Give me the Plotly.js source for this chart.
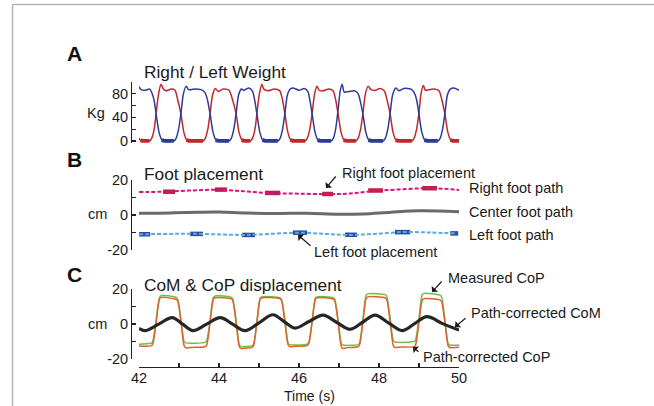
<!DOCTYPE html>
<html>
<head>
<meta charset="utf-8">
<script src="https://cdn.plot.ly/plotly-3.0.1.min.js"></script>
<style>html,body{margin:0;padding:0;background:#fff;}#chart{width:654px;height:406px;}</style>
</head>
<body>
<div id="chart"></div>
<script>
// ---------- DATA ----------
// Panel A: right / left weight (kg) vs time (s)
const rightWeightT = [42.00,42.04,42.10,42.26,42.32,42.38,42.43,42.49,42.55,42.61,42.68,42.80,42.90,42.96,43.05,43.12,43.19,43.25,
  43.60,43.66,43.72,43.78,43.84,43.91,43.98,44.10,44.25,44.33,44.43,44.50,44.57,44.63,
  44.78,44.84,44.90,44.95,45.01,45.07,45.12,45.22,45.38,45.52,45.58,45.65,45.72,45.79,45.85,
  46.15,46.21,46.27,46.33,46.39,46.45,46.50,46.60,46.75,46.85,46.91,46.98,47.05,47.12,47.18,
  47.42,47.48,47.54,47.60,47.66,47.73,47.80,47.92,48.02,48.13,48.20,48.28,48.35,48.42,48.48,
  48.82,48.88,48.94,49.00,49.05,49.11,49.16,49.25,49.38,49.50,49.57,49.65,49.72,49.79,49.85,50.00];
const rightWeightKg = [5,1,0,0,5,20,48,80,96,88,85,88,86,72,45,15,2,0,
  0,5,20,48,78,89,84,88,86,72,45,15,2,0,
  0,5,20,48,80,96,88,85,88,85,72,45,15,2,0,
  0,5,20,48,80,93,86,85,88,85,72,45,15,2,0,
  0,5,20,48,80,93,87,86,89,85,70,45,15,2,0,
  0,5,20,48,80,94,86,87,88,85,70,45,15,2,0,0];
const leftWeightT = [42.00,42.05,42.15,42.27,42.33,42.38,42.43,42.50,42.57,42.63,
  42.87,42.93,42.99,43.05,43.11,43.18,43.24,43.38,43.55,43.65,43.71,43.78,43.85,43.92,43.98,
  44.25,44.31,44.37,44.43,44.49,44.56,44.62,44.75,44.84,44.89,44.95,45.02,45.09,45.15,
  45.47,45.53,45.59,45.65,45.71,45.78,45.85,46.00,46.13,46.22,46.27,46.33,46.40,46.47,46.53,
  46.80,46.86,46.92,46.98,47.03,47.08,47.13,47.25,47.40,47.48,47.53,47.60,47.67,47.74,47.80,
  48.10,48.16,48.22,48.28,48.34,48.42,48.50,48.62,48.80,48.88,48.94,49.00,49.07,49.14,49.20,
  49.47,49.53,49.59,49.65,49.71,49.78,49.87,50.00];
const leftWeightKg = [92,87,86,88,80,68,45,15,2,0,
  0,5,20,48,80,93,87,88,87,82,70,45,15,2,0,
  0,5,20,48,78,88,86,90,84,70,45,15,2,0,
  0,5,20,48,78,88,90,86,89,84,70,45,15,2,0,
  0,5,22,55,85,96,83,84,85,80,68,45,15,2,0,
  0,5,20,48,78,90,85,89,88,82,70,45,15,2,0,
  0,5,20,48,78,88,90,86];

// Panel B: foot paths (cm)
const rightPathT  = [42.0,42.6,43.28,44.0,44.65,45.3,46.0,46.78,47.28,47.85,48.5,49.28,50.0];
const rightPathCm = [13.1,13.3,14.0,14.4,13.5,12.5,12.2,11.9,12.3,13.7,14.6,15.3,14.3];
const leftPathT   = [42.0,42.78,43.35,44.03,44.6,45.28,46.03,46.65,47.2,47.9,48.6,49.28,49.9];
const leftPathCm  = [-11.0,-10.8,-10.7,-11.1,-11.4,-10.8,-10.1,-10.8,-11.4,-10.8,-9.7,-10.0,-10.5];
const centerPathT  = [42.0,42.8,43.5,44.0,44.7,45.5,46.2,47.0,47.6,48.3,49.0,49.5,50.0];
const centerPathCm = [1.0,1.2,1.6,1.7,1.1,0.9,1.0,0.4,0.6,1.6,2.4,2.3,1.9];
// foot placements (start s, end s, lateral position cm)
const rightStepStart = [42.60,43.90,45.15,46.58,47.73,49.08];
const rightStepEnd   = [42.90,44.20,45.53,46.85,48.10,49.45];
const rightStepCm    = [13.3,14.5,12.6,12.0,14.0,15.3];
const leftStepStart  = [41.95,43.28,44.58,45.85,47.15,48.40,49.78];
const leftStepEnd    = [42.28,43.60,44.90,46.20,47.45,48.78,49.98];
const leftStepCm     = [-11.0,-10.8,-11.4,-10.1,-11.3,-9.8,-10.5];

// Panel C: CoM & CoP displacement (cm)
const measuredCopT = [42.00,42.30,42.34,42.43,42.51,42.55,42.90,42.96,43.05,43.13,43.17,
  43.65,43.69,43.78,43.86,43.90,44.30,44.34,44.43,44.51,44.55,
  44.82,44.86,44.95,45.03,45.07,45.52,45.56,45.65,45.73,45.77,
  46.20,46.24,46.33,46.41,46.45,46.85,46.89,46.98,47.06,47.10,
  47.47,47.51,47.60,47.68,47.72,48.15,48.19,48.28,48.36,48.40,
  48.87,48.91,49.00,49.08,49.12,49.52,49.56,49.65,49.73,49.77,50.00];
const measuredCop = [-11.5,-11.0,-10.2,2.5,15.0,16.2,15.4,14.6,2.0,-10.0,-10.8,
  -10.5,-9.8,3.0,15.2,16.0,15.3,14.5,1.5,-12.0,-12.8,
  -12.5,-11.8,2.0,14.8,15.5,15.0,14.2,2.0,-11.0,-11.8,
  -11.5,-10.8,2.0,14.8,15.5,15.0,14.2,2.0,-11.2,-12.0,
  -11.8,-11.0,3.0,16.5,17.2,16.8,16.0,3.0,-9.5,-10.3,
  -10.0,-9.3,3.5,16.8,17.5,16.5,15.8,2.0,-11.2,-12.0,-12.0];
const correctedCopT = [42.00,42.30,42.34,42.43,42.51,42.55,42.90,42.96,43.05,43.13,43.17,43.30,
  43.65,43.69,43.78,43.86,43.90,44.30,44.34,44.43,44.51,44.55,44.65,
  44.82,44.86,44.95,45.03,45.07,45.52,45.56,45.65,45.73,45.77,45.90,
  46.20,46.24,46.33,46.41,46.45,46.85,46.89,46.98,47.06,47.10,47.22,
  47.47,47.51,47.60,47.68,47.72,48.15,48.19,48.28,48.36,48.40,48.55,
  48.87,48.91,49.00,49.08,49.12,49.52,49.56,49.65,49.73,49.77,50.00];
const correctedCop = [-12.6,-12.5,-11.7,1.5,14.0,15.2,14.3,13.5,1.0,-12.5,-13.6,-13.4,
  -13.0,-12.2,1.5,14.2,15.0,14.5,13.7,0.5,-13.0,-14.0,-13.8,
  -13.5,-12.7,1.5,14.2,15.0,14.5,13.7,0.5,-12.0,-12.9,-12.7,
  -12.3,-11.5,1.5,14.2,15.0,14.3,13.5,0.5,-13.0,-14.0,-13.5,
  -13.0,-12.2,1.5,14.7,15.5,15.0,14.2,1.0,-12.5,-13.4,-13.2,
  -13.0,-12.2,1.0,13.7,14.5,13.8,13.0,0.5,-12.5,-13.4,-13.3];
const comT = [42.00,42.15,42.49,42.83,43.09,43.35,43.69,44.03,44.34,44.65,45.00,45.35,45.62,45.90,
  46.25,46.60,46.94,47.28,47.59,47.90,48.24,48.58,48.89,49.20,49.59,50.00];
const correctedCom = [-2.5,-3.8,-0.1,3.6,-0.1,-3.8,-0.1,3.6,-0.1,-3.8,0.7,5.3,1.5,-2.3,
  1.4,5.1,1.0,-3.0,1.0,5.1,0.6,-3.8,0.2,4.2,0.2,-3.5];

// tick labels
const timeTickVals = [42,43,44,45,46,47,48,49,50];
const timeTickText = ['42','','44','','46','','48','','50'];
const kgTickVals = [0,20,40,60,80,100];
const kgTickText = ['0','','40','','80',''];
const cmTickVals = [-20,-10,0,10,20];
const cmTickText = ['-20','','0','','20'];

// ---------- BUILD ----------
const W = 654, H = 406;
const px = v => v / W;
const py = v => 1 - v / H;
const FONT = 'Liberation Sans, Arial, Helvetica, sans-serif';

function segments(starts, ends, vals) {
  const x = [], y = [];
  starts.forEach((s, i) => { x.push(s, ends[i], null); y.push(vals[i], vals[i], null); });
  return {x, y};
}
const groundOnly = arr => arr.map(v => (v <= 2 ? v : null));

const RED = '#c1272d', BLUE = '#2e3a97';
const rs = segments(rightStepStart, rightStepEnd, rightStepCm);
const ls = segments(leftStepStart, leftStepEnd, leftStepCm);

const traces = [
  {x: rightWeightT, y: rightWeightKg, yaxis: 'y', mode: 'lines', line: {color: RED, width: 1.5, shape: 'spline', smoothing: 0.7}},
  {x: leftWeightT, y: leftWeightKg, yaxis: 'y', mode: 'lines', line: {color: BLUE, width: 1.5, shape: 'spline', smoothing: 0.7}},
  {x: rightWeightT, y: groundOnly(rightWeightKg), yaxis: 'y', mode: 'lines', line: {color: RED, width: 4}, connectgaps: false},
  {x: leftWeightT, y: groundOnly(leftWeightKg), yaxis: 'y', mode: 'lines', line: {color: BLUE, width: 4}, connectgaps: false},

  {x: rs.x, y: rs.y, yaxis: 'y2', mode: 'lines', line: {color: '#b8233f', width: 4.5}, connectgaps: false},
  {x: rightPathT, y: rightPathCm, yaxis: 'y2', mode: 'lines', line: {color: '#d9127e', width: 2, dash: '4px,2px', shape: 'spline'}},
  {x: centerPathT, y: centerPathCm, yaxis: 'y2', mode: 'lines', line: {color: '#6b6b6b', width: 3, shape: 'spline'}},
  {x: ls.x, y: ls.y, yaxis: 'y2', mode: 'lines', line: {color: '#2b4aa0', width: 4.5}, connectgaps: false},
  {x: leftPathT, y: leftPathCm, yaxis: 'y2', mode: 'lines', line: {color: '#5aaae2', width: 2, dash: '4px,2px', shape: 'spline'}},

  {x: measuredCopT, y: measuredCop, yaxis: 'y3', mode: 'lines', line: {color: '#6cbf4a', width: 1.5, shape: 'spline', smoothing: 0.8}},
  {x: correctedCopT, y: correctedCop, yaxis: 'y3', mode: 'lines', line: {color: '#e0622a', width: 1.5, shape: 'spline', smoothing: 0.8}},
  {x: comT, y: correctedCom, yaxis: 'y3', mode: 'lines', line: {color: '#262626', width: 3.2, shape: 'spline', smoothing: 1}}
];

const yBase = {
  anchor: 'free', position: px(131), showline: true, linecolor: '#222', linewidth: 1.3,
  ticks: 'inside', ticklen: 4, tickwidth: 1.2, tickcolor: '#222', showgrid: false, zeroline: false,
  tickmode: 'array', tickfont: {family: FONT, size: 14.5, color: '#1a1a1a'}, fixedrange: true
};

const ann = [];
function label(text, x, y, opts) {
  ann.push(Object.assign({text, x: px(x), y: py(y), xref: 'paper', yref: 'paper', showarrow: false,
    xanchor: 'left', yanchor: 'middle', font: {family: FONT, size: 14.5, color: '#1a1a1a'}}, opts || {}));
}
function arrow(tx, ty, hx, hy) {
  ann.push({text: '', x: px(hx), y: py(hy), xref: 'paper', yref: 'paper', ax: px(tx), ay: py(ty),
    axref: 'paper', ayref: 'paper', showarrow: true, arrowhead: 1, arrowsize: 1.2, arrowwidth: 1.2, arrowcolor: '#1a1a1a'});
}
// panel letters and titles
label('<b>A</b>', 74, 53, {xanchor: 'center', font: {family: FONT, size: 21, color: '#111'}});
label('<b>B</b>', 74, 160, {xanchor: 'center', font: {family: FONT, size: 21, color: '#111'}});
label('<b>C</b>', 74, 274, {xanchor: 'center', font: {family: FONT, size: 21, color: '#111'}});
label('Right / Left Weight', 142, 72, {font: {family: FONT, size: 17.3, color: '#1a1a1a'}});
label('Foot placement', 142, 174, {font: {family: FONT, size: 17.3, color: '#1a1a1a'}});
label('CoM &amp; CoP displacement', 142, 285, {font: {family: FONT, size: 17.3, color: '#1a1a1a'}});
// axis unit labels
label('Kg', 96, 113, {xanchor: 'center'});
label('cm', 97, 214, {xanchor: 'center'});
label('cm', 97, 324, {xanchor: 'center'});
label('Time (s)', 309, 396, {xanchor: 'center', font: {family: FONT, size: 14, color: '#1a1a1a'}});
// series labels
label('Right foot placement', 340, 173);
label('Right foot path', 467, 188);
label('Center foot path', 467, 212);
label('Left foot path', 467, 235);
label('Left foot placement', 312, 252);
label('Measured CoP', 446, 278);
label('Path-corrected CoM', 469, 313);
label('Path-corrected CoP', 421, 357);
arrow(337, 175, 326, 188);
arrow(312, 247, 298, 235);
arrow(443, 280, 432, 292);
arrow(467, 317, 455, 327);
arrow(420, 353, 413, 347);

const layout = {
  width: W, height: H, margin: {l: 0, r: 0, t: 0, b: 0, pad: 0},
  paper_bgcolor: '#fff', plot_bgcolor: 'rgba(0,0,0,0)', showlegend: false,
  font: {family: FONT, size: 14.5, color: '#1a1a1a'},
  xaxis: {domain: [px(139), px(459)], range: [42, 50], anchor: 'free', position: py(367),
    showline: true, linecolor: '#222', linewidth: 1.3, ticks: 'inside', ticklen: 4, tickwidth: 1.2, tickcolor: '#222',
    tickmode: 'array', tickvals: timeTickVals, ticktext: timeTickText, showgrid: false, zeroline: false,
    ticklabelstandoff: -3,
    tickfont: {family: FONT, size: 14.5, color: '#1a1a1a'}, fixedrange: true},
  yaxis: Object.assign({}, yBase, {domain: [py(142.8), py(82)], range: [-3, 100], tickvals: kgTickVals, ticktext: kgTickText}),
  yaxis2: Object.assign({}, yBase, {domain: [py(250), py(180)], range: [-20, 20], tickvals: cmTickVals, ticktext: cmTickText}),
  yaxis3: Object.assign({}, yBase, {domain: [py(359), py(289)], range: [-20, 20], tickvals: cmTickVals, ticktext: cmTickText}),
  annotations: ann,
  shapes: [
    {type: 'line', xref: 'paper', yref: 'paper', x0: px(12.5), x1: 1, y0: py(4.5), y1: py(4.5), line: {color: '#b3b3b3', width: 1.5}},
    {type: 'line', xref: 'paper', yref: 'paper', x0: px(12.5), x1: px(12.5), y0: py(4.5), y1: 0, line: {color: '#b3b3b3', width: 1.5}}
  ]
};

Plotly.newPlot('chart', traces, layout, {staticPlot: true, displayModeBar: false});
</script>
</body>
</html>
